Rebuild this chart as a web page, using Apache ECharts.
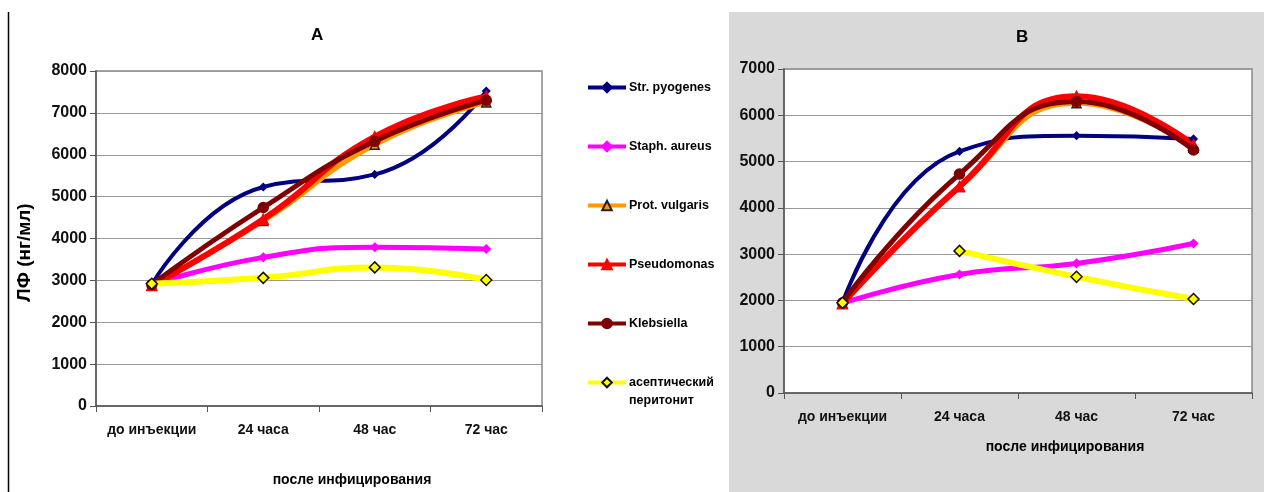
<!DOCTYPE html>
<html>
<head>
<meta charset="utf-8">
<script src="https://cdn.jsdelivr.net/npm/echarts@6/dist/echarts.min.js"></script>
<style>
  html, body { margin: 0; padding: 0; background: #fff; }
  #chart { width: 1264px; height: 492px; }
</style>
</head>
<body>
<div id="chart"></div>
<script>
// categories / series values
const categories = ['до инъекции', '24 часа', '48 час', '72 час'];
const names = ['Str. pyogenes', 'Staph. aureus', 'Prot. vulgaris', 'Pseudomonas', 'Klebsiella', 'асептический перитонит'];

// chart A
const strA = [2900, 5230, 5530, 7520];
const staphA = [2900, 3550, 3790, 3750];
const protA = [2880, 4420, 6240, 7250];
const pseudoA = [2880, 4460, 6430, 7390];
const klebA = [2900, 4740, 6320, 7300];
const aseptA = [2920, 3060, 3310, 3010];

// chart B
const strB = [1950, 5220, 5560, 5490];
const staphB = [1940, 2560, 2800, 3230];
const protB = [1940, 4450, 6260, 5300];
const pseudoB = [1930, 4460, 6410, 5360];
const klebB = [1950, 4730, 6300, 5250];
const aseptB = [null, 3070, 2510, 2030];
const aseptB0 = 1950; // lone point before injection, not joined to the line

const yTicksA = { min: 0, max: 8000, interval: 1000 };
const yTicksB = { min: 0, max: 7000, interval: 1000 };

const font = 'Liberation Sans, Arial, sans-serif';

const styles = [
  { color: '#000080', width: 4, symbol: 'diamond', size: 7, border: '#000080' },
  { color: '#ff00ff', width: 5, symbol: 'diamond', size: 8, border: '#ff00ff' },
  { color: '#ff9900', width: 5, symbol: 'triangle', size: 9, border: '#222' },
  { color: '#ff0000', width: 6, symbol: 'triangle', size: 10, border: '#ff0000' },
  { color: '#800000', width: 5, symbol: 'circle', size: 10, border: '#800000' },
  { color: '#ffff00', width: 6, symbol: 'diamond', size: 11, border: '#111' }
];

const chart = echarts.init(document.getElementById('chart'));

function mkSeries(name, st, data, idx) {
  return {
    name: name,
    type: 'line',
    xAxisIndex: idx,
    yAxisIndex: idx,
    data: data,
    smooth: 0.5,
    symbol: st.symbol,
    symbolSize: st.size,
    showAllSymbol: true,
    lineStyle: { color: st.color, width: st.width },
    itemStyle: { color: st.color, borderColor: st.border, borderWidth: 1.5 },
    emphasis: { disabled: true },
    animation: false
  };
}

const dataA = [strA, staphA, protA, pseudoA, klebA, aseptA];
const dataB = [strB, staphB, protB, pseudoB, klebB, aseptB];

const series = [];
names.forEach((n, i) => series.push(mkSeries(n, styles[i], dataA[i], 0)));
names.forEach((n, i) => {
  const s = mkSeries(n, styles[i], dataB[i], 1);
  if (i === 5) {
    s.markPoint = {
      symbol: 'diamond',
      symbolSize: styles[5].size,
      label: { show: false },
      itemStyle: { color: '#ffff00', borderColor: '#111', borderWidth: 1.5 },
      data: [{ coord: [categories[0], aseptB0] }],
      animation: false
    };
  }
  series.push(s);
});

function xAxis(idx, nameShift, nameGap) {
  return {
    type: 'category',
    gridIndex: idx,
    data: categories,
    boundaryGap: true,
    name: 'после инфицирования',
    nameLocation: 'middle',
    nameGap: nameGap,
    nameTextStyle: { fontFamily: font, fontWeight: 'bold', fontSize: 14, color: '#000', padding: [0, 0, 0, nameShift] },
    axisLine: { lineStyle: { color: '#555', width: 1.5 } },
    axisTick: { show: true, length: 6, lineStyle: { color: '#555' } },
    axisLabel: { interval: 0, fontFamily: font, fontWeight: 'bold', fontSize: 14, color: '#111', margin: 17 },
    splitLine: { show: false }
  };
}

function yAxis(idx, t) {
  return {
    type: 'value',
    gridIndex: idx,
    min: t.min,
    max: t.max,
    interval: t.interval,
    axisLine: { show: true, lineStyle: { color: '#555', width: 1.5 } },
    axisTick: { show: true, length: 6, lineStyle: { color: '#555' } },
    axisLabel: { fontFamily: font, fontWeight: 'bold', fontSize: 16, color: '#111', margin: 9, formatter: v => String(v) },
    splitLine: { show: true, lineStyle: { color: '#999', width: 1 } }
  };
}

const yA = yAxis(0, yTicksA);
yA.name = 'ЛФ (нг/мл)';
yA.nameLocation = 'middle';
yA.nameGap = 62;
yA.nameTextStyle = { fontFamily: font, fontWeight: 'bold', fontSize: 19, color: '#000', padding: [0, 28, 0, 0] };

const option = {
  backgroundColor: '#fff',
  animation: false,
  textStyle: { fontFamily: font },
  title: [
    { text: 'A', left: 306, top: 22, textStyle: { fontFamily: font, fontWeight: 'bold', fontSize: 17, color: '#000' } },
    { text: 'B', left: 1011, top: 24, textStyle: { fontFamily: font, fontWeight: 'bold', fontSize: 17, color: '#000' } }
  ],
  graphic: [
    { type: 'rect', z: -10, silent: true, shape: { x: 729, y: 12, width: 535, height: 480 }, style: { fill: '#d9d9d9' } },
    { type: 'line', z: -10, silent: true, shape: { x1: 8.5, y1: 12, x2: 8.5, y2: 492 }, style: { stroke: '#000', lineWidth: 1.5 } },
    // second line of the last legend entry
    { type: 'text', left: 629, top: 394, silent: true, style: { text: 'перитонит', fill: '#000', font: 'bold 12.5px ' + font } }
  ],
  legend: {
    orient: 'vertical',
    left: 581,
    top: 76,
    itemWidth: 38,
    itemHeight: 12,
    itemGap: 46,
    selectedMode: false,
    lineStyle: { width: 4 },
    textStyle: { fontFamily: font, fontWeight: 'bold', fontSize: 12.5, color: '#000', padding: [0, 0, 0, -2] },
    formatter: n => n === names[5] ? 'асептический' : n
  },
  grid: [
    { left: 96, top: 71, width: 446, height: 337, show: true, backgroundColor: '#fff', borderColor: '#888', borderWidth: 1.5 },
    { left: 784, top: 69, width: 468, height: 324, show: true, backgroundColor: '#fff', borderColor: '#888', borderWidth: 1.5 }
  ],
  xAxis: [xAxis(0, 66, 67), xAxis(1, 94, 47)],
  yAxis: [yA, yAxis(1, yTicksB)],
  series: series
};

chart.setOption(option);
</script>
</body>
</html>
